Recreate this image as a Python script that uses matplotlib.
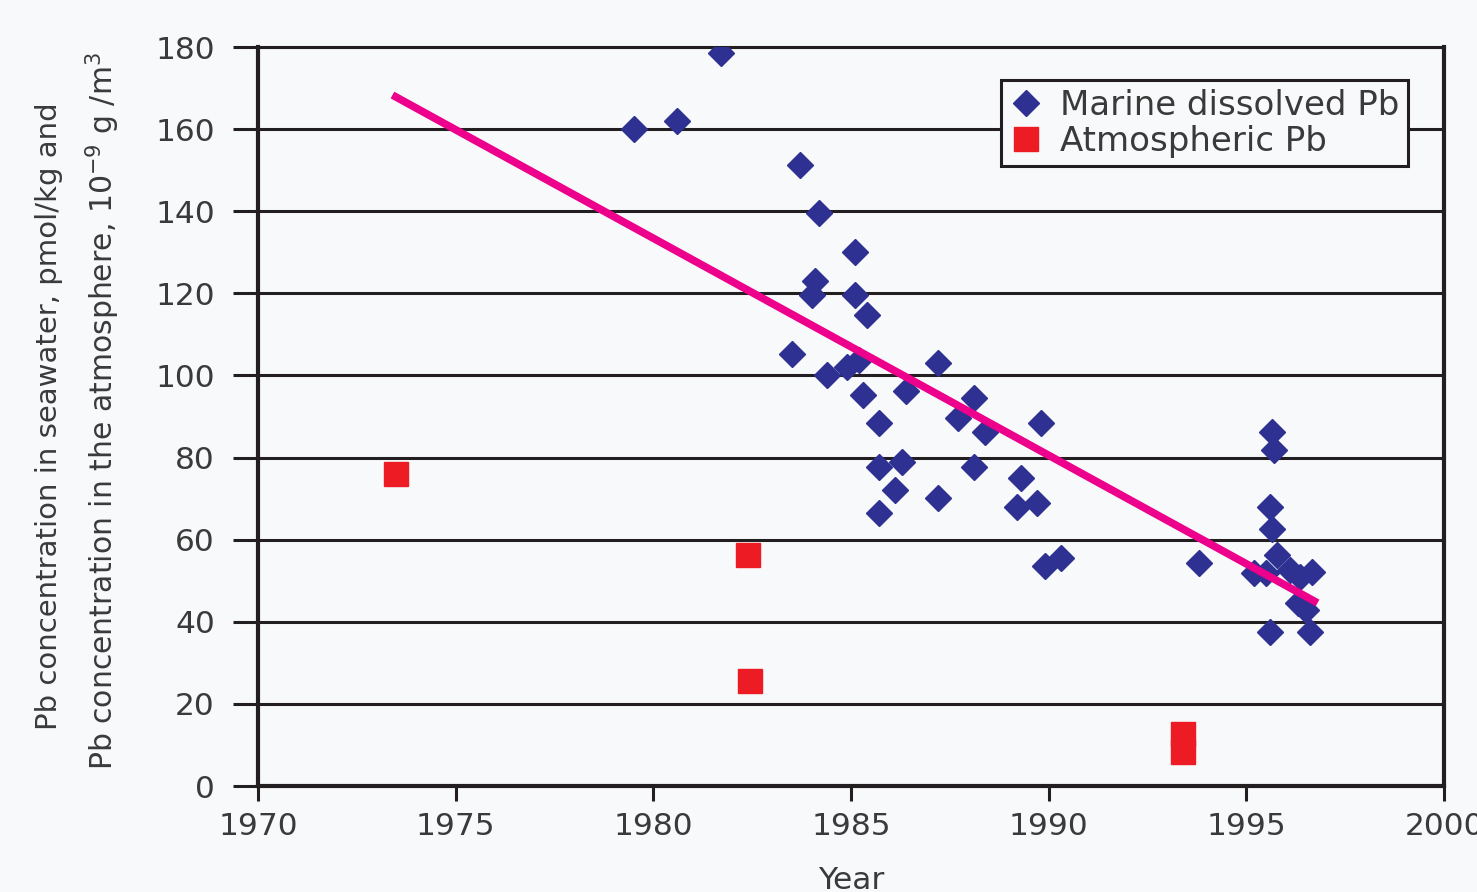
import matplotlib
matplotlib.use("Agg")
import matplotlib.pyplot as plt
from matplotlib.lines import Line2D

# marine dissolved Pb, pmol/kg
marine_years = [1979.5, 1980.6, 1981.7, 1983.7, 1984.2, 1985.1, 1984.1, 1984.0,
                1985.1, 1985.4, 1983.5, 1985.2, 1984.9, 1984.4, 1987.2, 1986.4,
                1985.3, 1988.1, 1987.7, 1988.4, 1985.7, 1989.8, 1985.7, 1986.3,
                1988.1, 1989.3, 1986.1, 1987.2, 1989.2, 1989.7, 1985.7, 1989.9,
                1990.3, 1993.8, 1995.64, 1995.7, 1995.6, 1995.64, 1995.77, 1995.2,
                1995.5, 1996.1, 1996.65, 1996.3, 1996.5, 1996.6, 1995.6, 1996.35]
marine_pb = [160, 162, 178.5, 151.2, 139.5, 130, 123, 119.6,
             119.6, 114.7, 105.2, 103.7, 102, 100, 103, 96.2,
             95.2, 94.5, 89.6, 86.2, 88.4, 88.4, 77.7, 78.9,
             77.7, 75, 72, 70.1, 68, 69, 66.5, 53.6,
             55.6, 54.3, 86.3, 81.8, 68, 62.7, 56.3, 51.9,
             51.9, 52.6, 52.2, 44.6, 42.9, 37.6, 37.6, 51.0]

# atmospheric Pb, 10^-9 g/m3
atmos_years = [1973.5, 1982.4, 1982.45, 1993.4, 1993.4]
atmos_pb = [76.0, 56.3, 25.6, 12.7, 8.3]

# trend line end points
trend_years = [1973.4, 1996.8]
trend_pb = [168.3, 44.6]

bg = '#f8f9fb'
ink = '#231f20'
txt = '#3a3a3a'
blue = '#2e3192'
red = '#ed1c24'
pink = '#ec008c'

fig = plt.figure(figsize=(14.77, 8.92), dpi=100, facecolor=bg)
ax = fig.add_axes([0.1747, 0.1188, 0.8030, 0.8285], facecolor=bg)

ax.plot(marine_years, marine_pb, linestyle='none', marker='D', ms=13,
        color=blue, mec=blue, zorder=3)
ax.plot(atmos_years, atmos_pb, linestyle='none', marker='s', ms=17,
        color=red, mec=red, zorder=3)
ax.plot(trend_years, trend_pb, color=pink, lw=5.5, solid_capstyle='butt', zorder=4)

ax.set_xlim(1970, 2000)
ax.set_ylim(0, 180)
ax.set_xticks(range(1970, 2001, 5))
ax.set_yticks(range(0, 181, 20))
ax.yaxis.grid(True, color=ink, lw=2.2)
ax.set_axisbelow(True)

for side in ['left', 'right', 'bottom']:
    ax.spines[side].set_linewidth(3)
    ax.spines[side].set_color(ink)
ax.spines['top'].set_linewidth(2.2)
ax.spines['top'].set_color(ink)

ax.tick_params(axis='y', direction='out', length=18, width=2.2, color=ink,
               pad=13, labelsize=22.5, labelcolor=txt)
ax.tick_params(axis='x', direction='out', length=11, width=2.2, color=ink,
               pad=8, labelsize=22.5, labelcolor=txt)

ax.set_xlabel('Year', fontsize=22.5, color=txt, labelpad=18)

fig.text(49 / 1477, 1 - 416 / 892, 'Pb concentration in seawater, pmol/kg and',
         rotation=90, ha='center', va='center', fontsize=21, color=txt)
fig.text(103 / 1477, 1 - 411 / 892,
         'Pb concentration in the atmosphere, 10$^{-9}$ g /m$^{3}$',
         rotation=90, ha='center', va='center', fontsize=21.5, color=txt)

handles = [Line2D([], [], linestyle='none', marker='D', ms=13, color=blue),
           Line2D([], [], linestyle='none', marker='s', ms=17, color=red)]
leg = ax.legend(handles, ['Marine dissolved Pb', 'Atmospheric Pb'],
                loc='upper right', bbox_to_anchor=(0.9696, 0.9553),
                borderaxespad=0, fontsize=24.5, frameon=True, fancybox=False,
                handlelength=1.0, handletextpad=0.5, borderpad=0.25,
                labelspacing=0.1, facecolor=bg, framealpha=1, edgecolor=ink)
leg.get_frame().set_linewidth(2.2)
for t in leg.get_texts():
    t.set_color(txt)

fig.savefig('out.png', dpi=100, facecolor=bg)
